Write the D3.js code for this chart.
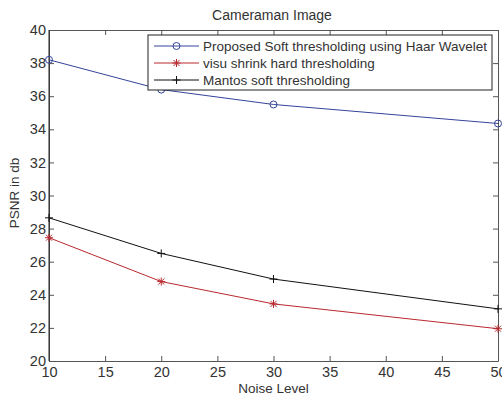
<!DOCTYPE html>
<html>
<head>
<meta charset="utf-8">
<script src="https://cdn.jsdelivr.net/npm/d3@7"></script>
<style>
  body { margin: 0; background: #fff; }
  text { font-family: "Liberation Sans", Arial, sans-serif; fill: #333; }
</style>
</head>
<body>
<script>
// data
let noiseLevels = [10, 20, 30, 50];
let proposedSoft = [38.2, 36.4, 35.5, 34.35];
let visuHard = [27.45, 24.8, 23.45, 21.95];
let mantosSoft = [28.65, 26.5, 24.95, 23.15];
let seriesNames = ['Proposed Soft thresholding using Haar Wavelet', 'visu shrink hard thresholding', 'Mantos soft thresholding'];
let xTicks = [10, 15, 20, 25, 30, 35, 40, 45, 50];
let yTicks = [20, 22, 24, 26, 28, 30, 32, 34, 36, 38, 40];

let width = 502;
let height = 396;
let margin = {left: 49, right: 4, top: 30, bottom: 35};

let svg = d3.select('body').append('svg')
   .attr('width', width)
   .attr('height', height);

let xScale = d3.scaleLinear()
   .domain([10, 50])
   .range([margin.left, width - margin.right]);
let yScale = d3.scaleLinear()
   .domain([20, 40])
   .range([height - margin.bottom, margin.top]);

let series = [
   {name: seriesNames[0], values: proposedSoft, color: '#34449a', marker: 'circle'},
   {name: seriesNames[1], values: visuHard, color: '#b8282e', marker: 'star'},
   {name: seriesNames[2], values: mantosSoft, color: '#111', marker: 'plus'}
];

// axes: matlab-style box with inward ticks on all four sides
let axisColor = '#555';
let tickLen = 5;
let makeAxis = (axis, transform, labels) => {
   let g = svg.append('g')
      .attr('transform', transform)
      .call(axis);
   g.select('.domain').attr('stroke', axisColor);
   g.selectAll('.tick line').attr('stroke', axisColor);
   g.selectAll('.tick text')
      .style('font-size', '14.5px')
      .style('font-family', '"Liberation Sans", Arial, sans-serif')
      .attr('fill', '#333')
      .style('display', labels ? null : 'none');
   return g;
}
makeAxis(d3.axisBottom(xScale).tickValues(xTicks).tickSizeInner(-tickLen).tickSizeOuter(0).tickPadding(6),
   'translate(0,' + (height - margin.bottom) + ')', true);
makeAxis(d3.axisTop(xScale).tickValues(xTicks).tickSizeInner(-tickLen).tickSizeOuter(0),
   'translate(0,' + margin.top + ')', false);
makeAxis(d3.axisLeft(yScale).tickValues(yTicks).tickSizeInner(-tickLen).tickSizeOuter(0).tickPadding(3),
   'translate(' + margin.left + ',0)', true);
makeAxis(d3.axisRight(yScale).tickValues(yTicks).tickSizeInner(-tickLen).tickSizeOuter(0),
   'translate(' + (width - margin.right) + ',0)', false);

// left axis looks darker in the original
svg.append('line')
   .attr('x1', margin.left).attr('x2', margin.left)
   .attr('y1', margin.top).attr('y2', height - margin.bottom)
   .attr('stroke', '#222');

// lines
let line = d3.line()
   .x((d, i) => xScale(noiseLevels[i]))
   .y((d) => yScale(d));

let drawMarker = (g, type, x, y, color) => {
   if (type === 'circle') {
      g.append('circle').attr('cx', x).attr('cy', y).attr('r', 3.5)
         .attr('fill', 'none').attr('stroke', color);
   } else if (type === 'plus') {
      g.append('path').attr('d', `M${x - 4},${y}H${x + 4}M${x},${y - 4}V${y + 4}`)
         .attr('stroke', color);
   } else {
      g.append('path').attr('d', `M${x - 4},${y}H${x + 4}M${x},${y - 4}V${y + 4}M${x - 3},${y - 3}L${x + 3},${y + 3}M${x - 3},${y + 3}L${x + 3},${y - 3}`)
         .attr('stroke', color);
   }
}

series.forEach((s) => {
   svg.append('path')
      .datum(s.values)
      .attr('d', line)
      .attr('fill', 'none')
      .attr('stroke', s.color)
      .attr('stroke-width', 1);
   let g = svg.append('g');
   s.values.forEach((v, i) => drawMarker(g, s.marker, xScale(noiseLevels[i]), yScale(v), s.color));
});

// legend
let legend = svg.append('g').attr('transform', 'translate(148,35)');
legend.append('rect')
   .attr('width', 344).attr('height', 55)
   .attr('fill', '#fff').attr('stroke', '#222');
series.forEach((s, i) => {
   let y = 11 + i * 17;
   legend.append('line')
      .attr('x1', 6).attr('x2', 51).attr('y1', y).attr('y2', y)
      .attr('stroke', s.color);
   drawMarker(legend, s.marker, 28.5, y, s.color);
   legend.append('text')
      .attr('x', 55).attr('y', y + 5)
      .style('font-size', '13.5px')
      .text(s.name);
});

// titles
svg.append('text')
   .attr('x', 272)
   .attr('y', 20)
   .attr('text-anchor', 'middle')
   .style('font-size', '14px')
   .text('Cameraman Image');
svg.append('text')
   .attr('x', (margin.left + width - margin.right) / 2)
   .attr('y', 393)
   .attr('text-anchor', 'middle')
   .style('font-size', '13.5px')
   .text('Noise Level');
svg.append('text')
   .attr('transform', 'translate(19,193) rotate(-90)')
   .attr('text-anchor', 'middle')
   .style('font-size', '13.5px')
   .text('PSNR in db');
</script>
</body>
</html>
